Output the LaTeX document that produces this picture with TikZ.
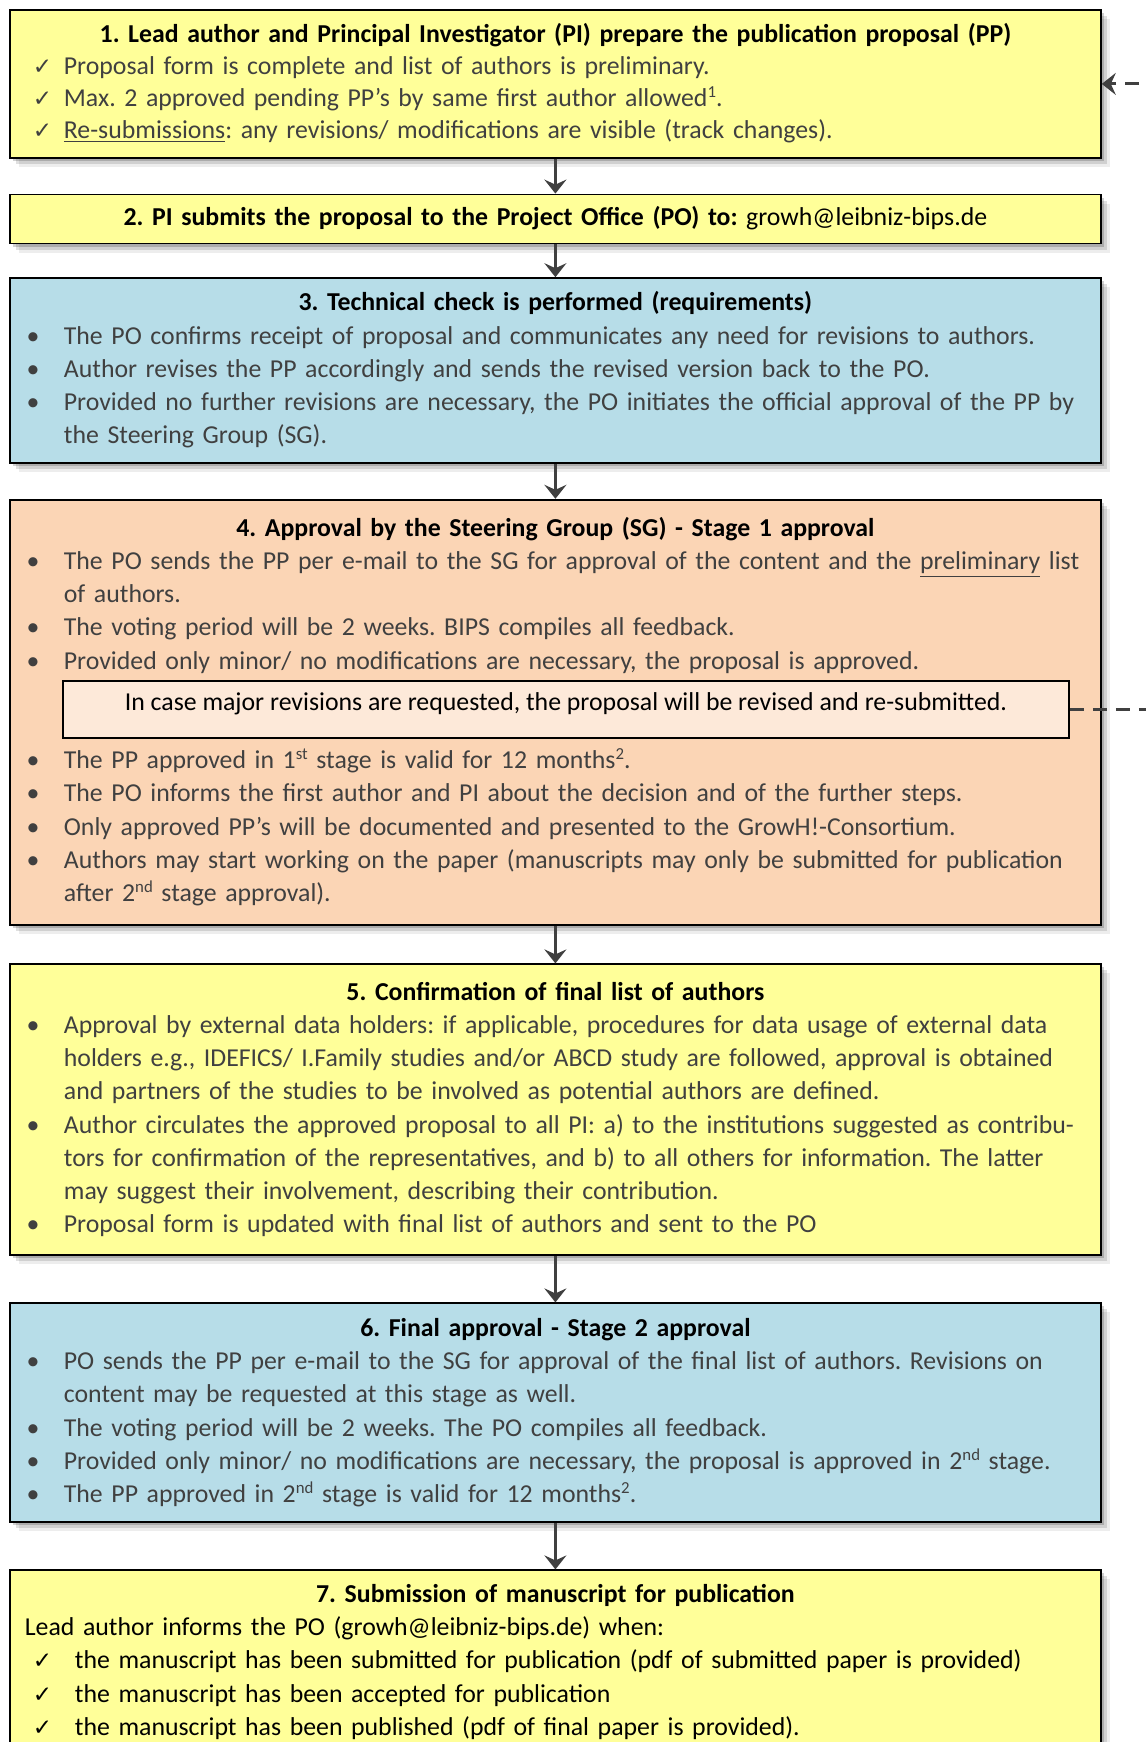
\documentclass[tikz,border=0pt]{standalone}
\usepackage{fontspec}
\setmainfont{Carlito}
\newfontfamily\symfont{DejaVu Sans}
\usetikzlibrary{positioning,shadows,arrows.meta}
\definecolor{stepyellow}{HTML}{FFFF99}
\definecolor{stepblue}{HTML}{B7DDE8}
\definecolor{steporange}{HTML}{FBD5B5}
\definecolor{notefill}{HTML}{FDE9D9}
\definecolor{bodygray}{HTML}{404040}
\definecolor{arrowgray}{HTML}{404040}
\frenchspacing
\newcommand{\steptitle}[1]{\makebox[\hsize]{\strut\color{black}\bfseries #1}}
\newcommand{\sups}[1]{\smash{\raisebox{4.6pt}{\fontsize{8.4}{9}\selectfont #1}}}
\newcommand{\bul}[1]{\makebox[19.5pt][l]{\strut\hspace{0.8pt}\textbullet}\mbox{#1}}
\newcommand{\cont}[1]{\hspace*{19.5pt}\strut\mbox{#1}}
\newcommand{\chk}[2][19.5pt]{\makebox[#1][l]{\strut\hspace{4pt}{\symfont\fontsize{11.5}{12}\selectfont ✓}}\mbox{#2}}
\tikzset{
softshadow/.style={
  drop shadow={shadow xshift=1.5pt,shadow yshift=-1.5pt,opacity=.18,fill=black},
  drop shadow={shadow xshift=3pt,shadow yshift=-3pt,opacity=.12,fill=black},
  drop shadow={shadow xshift=4.5pt,shadow yshift=-4.5pt,opacity=.07,fill=black}},
stepbox/.style={draw=black,line width=0.9pt,text width=530.5pt,inner xsep=7.5pt,inner ysep=4.5pt,
  align=left,text=bodygray,softshadow},
yellowstep/.style={stepbox,fill=stepyellow},
bluestep/.style={stepbox,fill=stepblue},
orangestep/.style={stepbox,fill=steporange},
notebox/.style={draw=black,line width=0.9pt,fill=notefill,minimum width=503pt,minimum height=28.5pt,
  inner xsep=0pt,inner ysep=0pt,text height=15pt,text depth=13.5pt,align=center,text=black},
flowarrow/.style={-{Stealth[length=7pt,width=11pt,inset=2.5pt]},line width=1.4pt,arrowgray},
backarrow/.style={-{Stealth[length=7pt,width=11pt,inset=2.5pt]},line width=1.5pt,arrowgray,dash pattern=on 7pt off 4.5pt}
}
\begin{document}
\begin{tikzpicture}[every node/.style={font=\fontsize{12.9}{16.6}\selectfont}]
\useasboundingbox (0,0) rectangle (573pt,-871pt);
% steps
\node[yellowstep,anchor=north west,minimum height=74pt,font=\fontsize{12.9}{16.1}\selectfont] (b1) at (4.5pt,-4.5pt) {%
\steptitle{1. Lead author and Principal Investigator (PI) prepare the publication proposal (PP)}\\
\chk{Proposal form is complete and list of authors is preliminary.}\\
\chk{Max. 2 approved pending PP’s by same first author allowed\sups{1}.}\\
\chk{\underline{Re-submissions}: any revisions/ modifications are visible (track changes).}};
\node[yellowstep,below=17.4pt of b1,minimum height=24.5pt,inner ysep=3pt,align=center,text=black] (b2) {%
\strut\textbf{2. PI submits the proposal to the Project Office (PO) to:} growh@leibniz-bips.de};
\node[bluestep,below=16.4pt of b2,minimum height=92.5pt] (b3) {%
\steptitle{3. Technical check is performed (requirements)}\\
\bul{The PO confirms receipt of proposal and communicates any need for revisions to authors.}\\
\bul{Author revises the PP accordingly and sends the revised version back to the PO.}\\
\bul{Provided no further revisions are necessary, the PO initiates the official approval of the PP by}\\
\cont{the Steering Group (SG).}};
\node[orangestep,below=17.4pt of b3,minimum height=212.5pt] (b4) {%
\steptitle{4. Approval by the Steering Group (SG) - Stage 1 approval}\\
\bul{The PO sends the PP per e-mail to the SG for approval of the content and the \underline{preliminary} list}\\
\cont{of authors.}\\
\bul{The voting period will be 2 weeks. BIPS compiles all feedback.}\\
\bul{Provided only minor/ no modifications are necessary, the proposal is approved.}\\[33.2pt]
\bul{The PP approved in 1\sups{st} stage is valid for 12 months\sups{2}.}\\
\bul{The PO informs the first author and PI about the decision and of the further steps.}\\
\bul{Only approved PP’s will be documented and presented to the GrowH!-Consortium.}\\
\bul{Authors may start working on the paper (manuscripts may only be submitted for publication}\\
\cont{after 2\sups{nd} stage approval).}};
\node[notebox,below right=90.5pt and 26.5pt of b4.north west] (note) {In case major revisions are requested, the proposal will be revised and re-submitted.};
\node[yellowstep,below=18.9pt of b4,minimum height=145.5pt] (b5) {%
\steptitle{5. Confirmation of final list of authors}\\
\bul{Approval by external data holders: if applicable, procedures for data usage of external data}\\
\cont{holders e.g., IDEFICS/ I.Family studies and/or ABCD study are followed, approval is obtained}\\
\cont{and partners of the studies to be involved as potential authors are defined.}\\
\bul{Author circulates the approved proposal to all PI: a) to the institutions suggested as contribu-}\\
\cont{tors for confirmation of the representatives, and b) to all others for information. The latter}\\
\cont{may suggest their involvement, describing their contribution.}\\
\bul{Proposal form is updated with final list of authors and sent to the PO}};
\node[bluestep,below=23.1pt of b5,minimum height=109.5pt] (b6) {%
\steptitle{6. Final approval - Stage 2 approval}\\
\bul{PO sends the PP per e-mail to the SG for approval of the final list of authors. Revisions on}\\
\cont{content may be requested at this stage as well.}\\
\bul{The voting period will be 2 weeks. The PO compiles all feedback.}\\
\bul{Provided only minor/ no modifications are necessary, the proposal is approved in 2\sups{nd} stage.}\\
\bul{The PP approved in 2\sups{nd} stage is valid for 12 months\sups{2}.}};
\node[yellowstep,below=23.1pt of b6,text=black] (b7) {%
\steptitle{7. Submission of manuscript for publication}\\
\strut Lead author informs the PO (growh@leibniz-bips.de) when:\\
\chk[25pt]{the manuscript has been submitted for publication (pdf of submitted paper is provided)}\\
\chk[25pt]{the manuscript has been accepted for publication}\\
\chk[25pt]{the manuscript has been published (pdf of final paper is provided).}};
% connectors
\draw[flowarrow] (b1) -- (b2);
\draw[flowarrow] (b2) -- (b3);
\draw[flowarrow] (b3) -- (b4);
\draw[flowarrow] (b4) -- (b5);
\draw[flowarrow] (b5) -- (b6);
\draw[flowarrow] (b6) -- (b7);
\draw[backarrow] (note.east) -- ++(45pt,0) |- (b1.east);
\end{tikzpicture}
\end{document}
